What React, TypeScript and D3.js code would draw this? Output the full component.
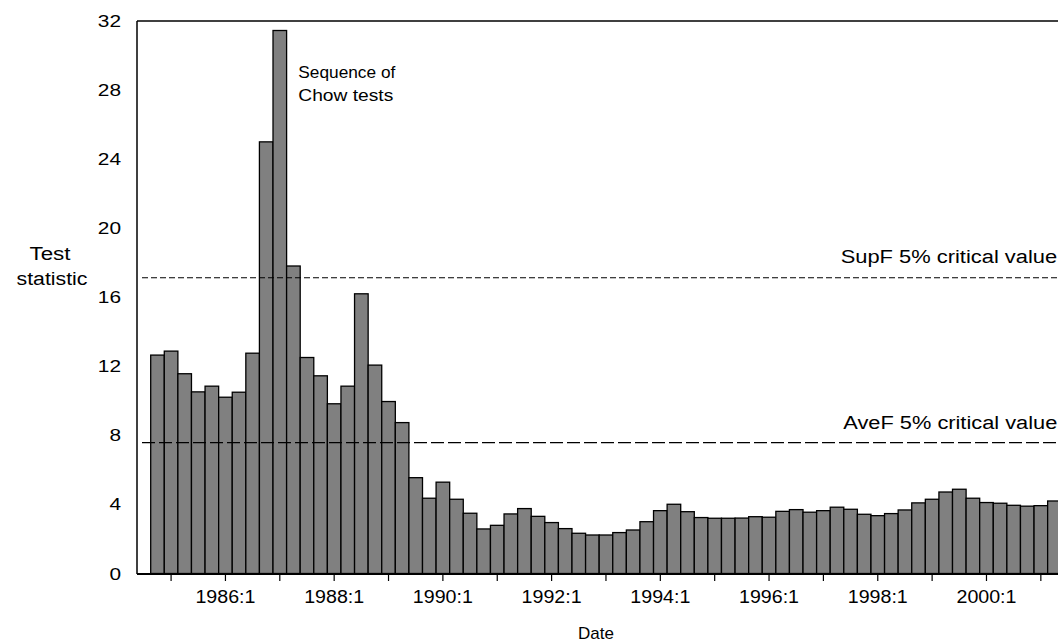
import React from "react";
import * as d3 from "d3";

// Quarterly Chow test statistics, starting 1984:4
const startYear = 1984;
const startQuarter = 4;
const chowValues: number[] = [
  12.65, 12.88, 11.57, 10.52, 10.85, 10.21, 10.5, 12.76, 25.0, 31.45,
  17.81, 12.51, 11.45, 9.83, 10.85, 16.2, 12.07, 9.96, 8.74, 5.55,
  4.36, 5.29, 4.3, 3.49, 2.58, 2.79, 3.45, 3.76, 3.31, 2.95,
  2.6, 2.33, 2.23, 2.23, 2.37, 2.52, 3.0, 3.64, 4.01, 3.58,
  3.24, 3.2, 3.2, 3.21, 3.29, 3.26, 3.6, 3.7, 3.55, 3.64,
  3.84, 3.72, 3.43, 3.35, 3.47, 3.68, 4.09, 4.3, 4.72, 4.88,
  4.36, 4.11, 4.07, 3.95, 3.9, 3.93, 4.2,
];
const categories: string[] = chowValues.map((_, i) => {
  const q = startQuarter - 1 + i;
  return `${startYear + Math.floor(q / 4)}:${(q % 4) + 1}`;
});
const yTicks = [0, 4, 8, 12, 16, 20, 24, 28, 32];
const tickYears = [1985, 1986, 1987, 1988, 1989, 1990, 1991, 1992, 1993, 1994, 1995, 1996, 1997, 1998, 1999, 2000, 2001];
const labelYears = [1986, 1988, 1990, 1992, 1994, 1996, 1998, 2000];
const supF = 17.13;
const aveF = 7.58;

const W = 1058;
const H = 642;
const FONT = "'Liberation Sans', Arial, Helvetica, sans-serif";
const FS = 18;

export default function App() {
  const barW = 13.59;
  const x0 = 150.7;
  const x = d3
    .scaleBand<string>()
    .domain(categories)
    .range([x0, x0 + barW * categories.length])
    .padding(0);
  const y = d3.scaleLinear().domain([0, 32]).range([573.5, 21]);
  const axisLeft = 137;
  const axisBottom = 574;

  const center = (c: string) => (x(c) ?? 0) + x.bandwidth() / 2;

  return (
    <svg
      width={W}
      height={H}
      style={{ position: "absolute", left: 0, top: 0, background: "#fff" }}
      fontFamily={FONT}
    >
      <rect x={0} y={0} width={W} height={H} fill="#fff" />
      {/* bars */}
      {chowValues.map((v, i) => (
        <rect
          key={i}
          x={x(categories[i])}
          y={y(v)}
          width={x.bandwidth()}
          height={y(0) - y(v)}
          fill="#808080"
          stroke="#000"
          strokeWidth={1.3}
        />
      ))}
      {/* critical value lines */}
      <line x1={142} x2={W} y1={y(supF)} y2={y(supF)} stroke="#000" strokeWidth={1.2} strokeDasharray="6,3" />
      <line x1={142} x2={W} y1={y(aveF)} y2={y(aveF)} stroke="#000" strokeWidth={1.2} strokeDasharray="13,4" />
      {/* frame */}
      <line x1={axisLeft} x2={W} y1={21} y2={21} stroke="#000" strokeWidth={1.5} />
      <line x1={axisLeft} x2={axisLeft} y1={21} y2={axisBottom} stroke="#000" strokeWidth={1.5} />
      <line x1={axisLeft} x2={W} y1={axisBottom} y2={axisBottom} stroke="#000" strokeWidth={2} />
      {/* x ticks */}
      {tickYears.map((yr) => {
        const c = `${yr}:1`;
        const cx = center(c);
        return <line key={yr} x1={cx} x2={cx} y1={axisBottom} y2={axisBottom + 7} stroke="#000" strokeWidth={1.2} />;
      })}
      {labelYears.map((yr) => {
        const c = `${yr}:1`;
        return (
          <text
            key={yr}
            x={center(c)}
            y={602.7}
            textAnchor="middle"
            fontSize={FS}
            textLength={60}
            lengthAdjust="spacingAndGlyphs"
            fill="#000"
          >
            {c}
          </text>
        );
      })}
      {/* y tick labels */}
      {yTicks.map((t) => (
        <text
          key={t}
          x={121}
          y={y(t) + 6}
          textAnchor="end"
          fontSize={17}
          textLength={String(t).length * 11.6}
          lengthAdjust="spacingAndGlyphs"
          fill="#000"
        >
          {t}
        </text>
      ))}
      {/* axis titles */}
      <text x={50} y={260} textAnchor="middle" fontSize={FS} textLength={41} lengthAdjust="spacingAndGlyphs">
        Test
      </text>
      <text x={52} y={285} textAnchor="middle" fontSize={FS} textLength={71} lengthAdjust="spacingAndGlyphs">
        statistic
      </text>
      <text x={596} y={639} textAnchor="middle" fontSize={17}>
        Date
      </text>
      {/* annotations */}
      <text x={298.3} y={77.7} fontSize={17} textLength={97} lengthAdjust="spacingAndGlyphs">
        Sequence of
      </text>
      <text x={298.3} y={101.2} fontSize={17} textLength={95} lengthAdjust="spacingAndGlyphs">
        Chow tests
      </text>
      <text x={840.7} y={263} fontSize={FS} textLength={216.5} lengthAdjust="spacingAndGlyphs">
        SupF 5% critical value
      </text>
      <text x={843.3} y={429} fontSize={FS} textLength={214} lengthAdjust="spacingAndGlyphs">
        AveF 5% critical value
      </text>
    </svg>
  );
}
